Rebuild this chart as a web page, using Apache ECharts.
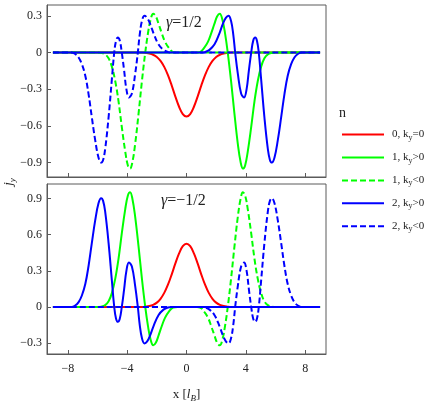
<!DOCTYPE html>
<html>
<head>
<meta charset="utf-8">
<script src="https://cdn.jsdelivr.net/npm/echarts@6/dist/echarts.min.js"></script>
<style>
html,body{margin:0;padding:0;background:#fff;}
#chart{width:436px;height:404px;}
</style>
</head>
<body>
<div id="chart"></div>
<script>
// ---- tick labels ----
const X_TICKS = [-8, -4, 0, 4, 8];
const Y_TICKS_TOP = [-0.9, -0.6, -0.3, 0, 0.3];
const Y_TICKS_BOTTOM = [-0.3, 0, 0.3, 0.6, 0.9];
const SERIES_NAMES = ['0, ky=0', '1, ky>0', '1, ky<0', '2, ky>0', '2, ky<0'];
const PANEL_LABELS = ['γ=1/2', 'γ=−1/2'];

// ---- top panel (gamma = 1/2) ----
const top_red = [[-9,0],[-3,0],[-2.75,-0.003],[-2.5,-0.008],[-2.25,-0.018],[-2,-0.036],[-1.75,-0.068],[-1.5,-0.117],[-1.25,-0.185],[-1,-0.269],[-0.75,-0.361],[-0.5,-0.444],[-0.25,-0.504],[0,-0.525],[0.25,-0.504],[0.5,-0.444],[0.75,-0.361],[1,-0.269],[1.25,-0.185],[1.5,-0.117],[1.75,-0.068],[2,-0.036],[2.25,-0.018],[2.5,-0.008],[2.75,-0.003],[3,0],[9,0]];
const top_green_pos = [[-9,0],[0.6,0],[0.9,0.004],[1.2,0.04],[1.45,0.09],[1.67,0.16],[1.88,0.235],[2.06,0.295],[2.24,0.318],[2.42,0.27],[2.6,0.155],[2.78,0],[3.0,-0.23],[3.23,-0.50],[3.46,-0.75],[3.65,-0.90],[3.8,-0.951],[3.95,-0.925],[4.13,-0.81],[4.36,-0.61],[4.58,-0.40],[4.8,-0.235],[5.03,-0.115],[5.25,-0.047],[5.48,-0.015],[5.75,-0.003],[6,0],[9,0]];
const top_green_neg = [[-9,0],[-6,0],[-5.75,-0.003],[-5.48,-0.015],[-5.25,-0.047],[-5.03,-0.115],[-4.8,-0.235],[-4.58,-0.40],[-4.36,-0.61],[-4.13,-0.81],[-3.95,-0.925],[-3.8,-0.951],[-3.65,-0.90],[-3.46,-0.75],[-3.23,-0.50],[-3.0,-0.23],[-2.78,0],[-2.6,0.155],[-2.42,0.27],[-2.24,0.318],[-2.06,0.295],[-1.88,0.235],[-1.67,0.16],[-1.45,0.09],[-1.2,0.04],[-0.9,0.004],[-0.6,0],[9,0]];
const top_blue_pos = [[-9,0],[1.0,0],[1.25,0.004],[1.55,0.022],[1.89,0.068],[2.22,0.158],[2.45,0.235],[2.65,0.285],[2.83,0.302],[3.0,0.26],[3.15,0.15],[3.28,0],[3.46,-0.175],[3.68,-0.335],[3.88,-0.368],[4.05,-0.30],[4.2,-0.15],[4.36,0],[4.5,0.10],[4.63,0.123],[4.75,0.095],[4.87,0],[5.03,-0.22],[5.25,-0.53],[5.48,-0.79],[5.62,-0.88],[5.75,-0.902],[5.93,-0.86],[6.15,-0.72],[6.38,-0.53],[6.6,-0.34],[6.82,-0.19],[7.05,-0.095],[7.27,-0.04],[7.5,-0.012],[7.75,0],[9,0]];
const top_blue_neg = [[-9,0],[-7.75,0],[-7.5,-0.012],[-7.27,-0.04],[-7.05,-0.095],[-6.82,-0.19],[-6.6,-0.34],[-6.38,-0.53],[-6.15,-0.72],[-5.93,-0.86],[-5.75,-0.902],[-5.62,-0.88],[-5.48,-0.79],[-5.25,-0.53],[-5.03,-0.22],[-4.87,0],[-4.75,0.095],[-4.63,0.123],[-4.5,0.10],[-4.36,0],[-4.2,-0.15],[-4.05,-0.30],[-3.88,-0.368],[-3.68,-0.335],[-3.46,-0.175],[-3.28,0],[-3.15,0.15],[-3.0,0.26],[-2.83,0.302],[-2.65,0.285],[-2.45,0.235],[-2.22,0.158],[-1.89,0.068],[-1.55,0.022],[-1.25,0.004],[-1.0,0],[9,0]];

// ---- bottom panel (gamma = -1/2) ----
const bot_red = [[-9,0],[-3,0],[-2.75,0.003],[-2.5,0.008],[-2.25,0.018],[-2,0.036],[-1.75,0.068],[-1.5,0.117],[-1.25,0.185],[-1,0.269],[-0.75,0.361],[-0.5,0.444],[-0.25,0.504],[0,0.525],[0.25,0.504],[0.5,0.444],[0.75,0.361],[1,0.269],[1.25,0.185],[1.5,0.117],[1.75,0.068],[2,0.036],[2.25,0.018],[2.5,0.008],[2.75,0.003],[3,0],[9,0]];
const bot_green_pos = [[-9,0],[-6,0],[-5.75,0.003],[-5.48,0.015],[-5.25,0.047],[-5.03,0.115],[-4.8,0.235],[-4.58,0.40],[-4.36,0.61],[-4.13,0.81],[-3.95,0.925],[-3.8,0.951],[-3.65,0.90],[-3.46,0.75],[-3.23,0.50],[-3.0,0.23],[-2.78,0],[-2.6,-0.155],[-2.42,-0.27],[-2.24,-0.318],[-2.06,-0.295],[-1.88,-0.235],[-1.67,-0.16],[-1.45,-0.09],[-1.2,-0.04],[-0.9,-0.004],[-0.6,0],[9,0]];
const bot_green_neg = [[-9,0],[0.6,0],[0.9,-0.004],[1.2,-0.04],[1.45,-0.09],[1.67,-0.16],[1.88,-0.235],[2.06,-0.295],[2.24,-0.318],[2.42,-0.27],[2.6,-0.155],[2.78,0],[3.0,0.23],[3.23,0.50],[3.46,0.75],[3.65,0.90],[3.8,0.951],[3.95,0.925],[4.13,0.81],[4.36,0.61],[4.58,0.40],[4.8,0.235],[5.03,0.115],[5.25,0.047],[5.48,0.015],[5.75,0.003],[6,0],[9,0]];
const bot_blue_pos = [[-9,0],[-7.75,0],[-7.5,0.012],[-7.27,0.04],[-7.05,0.095],[-6.82,0.19],[-6.6,0.34],[-6.38,0.53],[-6.15,0.72],[-5.93,0.86],[-5.75,0.902],[-5.62,0.88],[-5.48,0.79],[-5.25,0.53],[-5.03,0.22],[-4.87,0],[-4.75,-0.095],[-4.63,-0.123],[-4.5,-0.10],[-4.36,0],[-4.2,0.15],[-4.05,0.30],[-3.88,0.368],[-3.68,0.335],[-3.46,0.175],[-3.28,0],[-3.15,-0.15],[-3.0,-0.26],[-2.83,-0.302],[-2.65,-0.285],[-2.45,-0.235],[-2.22,-0.158],[-1.89,-0.068],[-1.55,-0.022],[-1.25,-0.004],[-1.0,0],[9,0]];
const bot_blue_neg = [[-9,0],[1.0,0],[1.25,-0.004],[1.55,-0.022],[1.89,-0.068],[2.22,-0.158],[2.45,-0.235],[2.65,-0.285],[2.83,-0.302],[3.0,-0.26],[3.15,-0.15],[3.28,0],[3.46,0.175],[3.68,0.335],[3.88,0.368],[4.05,0.30],[4.2,0.15],[4.36,0],[4.5,-0.10],[4.63,-0.123],[4.75,-0.095],[4.87,0],[5.03,0.22],[5.25,0.53],[5.48,0.79],[5.62,0.88],[5.75,0.902],[5.93,0.86],[6.15,0.72],[6.38,0.53],[6.6,0.34],[6.82,0.19],[7.05,0.095],[7.27,0.04],[7.5,0.012],[7.75,0],[9,0]];

// ---- styling ----
const FONT = 'Liberation Serif';
const FRAME = '#5a5a5a';
const TXT = '#222';
const COLORS = ['#ff0000', '#00ff00', '#00ff00', '#0000ff', '#0000ff'];
const DASHED = [false, false, true, false, true];

const topData = [top_red, top_green_pos, top_green_neg, top_blue_pos, top_blue_neg];
const botData = [bot_red, bot_green_pos, bot_green_neg, bot_blue_pos, bot_blue_neg];

function fmtY(v) {
  if (Math.abs(v) < 1e-9) return '0';
  return (Math.round(v * 10) / 10).toFixed(1).replace('-', '\u2212');
}
function fmtX(v) {
  if (Math.abs(v) < 1e-9) return '0';
  return String(Math.round(v)).replace('-', '\u2212');
}

function makeX(idx, showLabels) {
  return {
    gridIndex: idx, type: 'value', min: -9.4, max: 9.4,
    axisLine: { show: true, onZero: false, lineStyle: { color: FRAME, width: 1 } },
    axisTick: { show: true, inside: true, length: 4, customValues: X_TICKS, lineStyle: { color: FRAME } },
    axisLabel: { show: showLabels, customValues: X_TICKS, formatter: fmtX, margin: 9,
      fontFamily: FONT, fontSize: 12, color: TXT },
    splitLine: { show: false },
    name: showLabels ? '{t|x [}{i|l}{s|B}{t|]}' : '',
    nameLocation: 'middle', nameGap: 33,
    nameTextStyle: { rich: {
      t: { fontFamily: FONT, fontSize: 13, color: TXT, lineHeight: 16, verticalAlign: 'middle' },
      i: { fontFamily: FONT, fontSize: 13, fontStyle: 'italic', color: TXT, lineHeight: 16 },
      s: { fontFamily: FONT, fontSize: 9, fontStyle: 'italic', color: TXT, lineHeight: 10, verticalAlign: 'bottom' }
    } }
  };
}
function makeY(idx, min, max, ticks) {
  return {
    gridIndex: idx, type: 'value', min: min, max: max,
    axisLine: { show: true, onZero: false, lineStyle: { color: FRAME, width: 1 } },
    axisTick: { show: true, inside: true, length: 4, customValues: ticks, lineStyle: { color: FRAME } },
    axisLabel: { show: true, customValues: ticks, formatter: fmtY, margin: 5,
      fontFamily: FONT, fontSize: 12, color: TXT },
    splitLine: { show: false }
  };
}

const series = [];
[topData, botData].forEach(function (set, gi) {
  set.forEach(function (d, k) {
    series.push({
      name: SERIES_NAMES[k], type: 'line', xAxisIndex: gi, yAxisIndex: gi,
      data: d, symbol: 'none', showSymbol: false, smooth: 0.4, clip: true,
      lineStyle: { color: COLORS[k], width: 2, type: DASHED[k] ? [6, 3] : 'solid' },
      itemStyle: { color: COLORS[k] },
      emphasis: { disabled: true }
    });
  });
});

const legendRich = {
  a: { fontFamily: FONT, fontSize: 11, color: TXT, lineHeight: 14 },
  s: { fontFamily: FONT, fontSize: 8, color: TXT, lineHeight: 9, verticalAlign: 'bottom' }
};

const option = {
  animation: false,
  backgroundColor: '#fff',
  grid: [
    { left: 47, top: 5, width: 279, height: 172, show: true, borderColor: FRAME, borderWidth: 1, backgroundColor: 'transparent' },
    { left: 47, top: 184, width: 279, height: 173, show: true, borderColor: FRAME, borderWidth: 1, backgroundColor: 'transparent' }
  ],
  xAxis: [makeX(0, false), makeX(1, true)],
  yAxis: [makeY(0, -1.02, 0.39, Y_TICKS_TOP), makeY(1, -0.39, 1.02, Y_TICKS_BOTTOM)],
  legend: {
    orient: 'vertical', left: 336, top: 124,
    itemWidth: 42, itemHeight: 14, itemGap: 10.3,
    data: SERIES_NAMES,
    selectedMode: false,
    itemStyle: { opacity: 0, borderWidth: 0 },
    formatter: function (name) {
      const parts = name.split('ky');
      return '{a|' + parts[0] + 'k}{s|y}{a|' + parts[1] + '}';
    },
    textStyle: { rich: legendRich, padding: [0, 0, 0, 3] }
  },
  graphic: [
    { type: 'text', left: 166, top: 15, style: { text: '{g|γ}{t|=1/2}', rich: {
      g: { fontFamily: FONT, fontSize: 16, fontStyle: 'italic', fill: TXT },
      t: { fontFamily: FONT, fontSize: 16, fill: TXT } } } },
    { type: 'text', left: 161, top: 193, style: { text: '{g|γ}{t|=\u22121/2}', rich: {
      g: { fontFamily: FONT, fontSize: 16, fontStyle: 'italic', fill: TXT },
      t: { fontFamily: FONT, fontSize: 16, fill: TXT } } } },
    { type: 'text', left: 339, top: 106, style: { text: 'n', fontFamily: FONT, fontSize: 14, fill: TXT } },
    { type: 'text', x: 9, y: 182, rotation: Math.PI / 2, style: {
      text: '{j|j}{s|y}', align: 'center', verticalAlign: 'middle', rich: {
        j: { fontFamily: FONT, fontSize: 13, fontStyle: 'italic', fill: TXT, lineHeight: 16 },
        s: { fontFamily: FONT, fontSize: 9, fontStyle: 'italic', fill: TXT, lineHeight: 10, verticalAlign: 'bottom' } } } }
  ],
  series: series
};

const chart = echarts.init(document.getElementById('chart'), null, { renderer: 'canvas' });
chart.setOption(option);
</script>
</body>
</html>
